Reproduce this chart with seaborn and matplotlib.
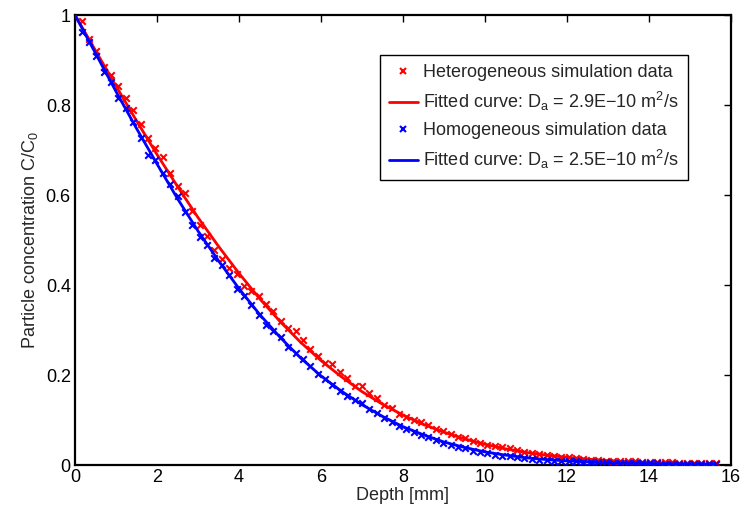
import matplotlib
matplotlib.use("Agg")
import matplotlib.pyplot as plt
import seaborn as sns
import pandas as pd
from matplotlib.lines import Line2D

# ---------------- data ----------------
depth = [0.16, 0.34, 0.52, 0.70, 0.88, 1.06, 1.24, 1.42, 1.60, 1.78,
         1.96, 2.14, 2.32, 2.50, 2.68, 2.86, 3.04, 3.22, 3.40, 3.58,
         3.76, 3.94, 4.12, 4.30, 4.48, 4.66, 4.84, 5.02, 5.20, 5.38,
         5.56, 5.74, 5.92, 6.10, 6.28, 6.46, 6.64, 6.82, 7.00, 7.18,
         7.36, 7.54, 7.72, 7.90, 8.08, 8.26, 8.44, 8.62, 8.80, 8.98,
         9.16, 9.34, 9.52, 9.70, 9.88, 10.06, 10.24, 10.42, 10.60, 10.78,
         10.96, 11.14, 11.32, 11.50, 11.68, 11.86, 12.04, 12.22, 12.40, 12.58,
         12.76, 12.94, 13.12, 13.30, 13.48, 13.66, 13.84, 14.02, 14.20, 14.38,
         14.56, 14.74, 14.92, 15.10, 15.28, 15.46, 15.64]

hetero_data = [0.987, 0.946, 0.921, 0.884, 0.866, 0.842, 0.815, 0.790, 0.758, 0.726,
               0.704, 0.684, 0.648, 0.621, 0.604, 0.565, 0.534, 0.510, 0.478, 0.458,
               0.438, 0.424, 0.398, 0.387, 0.376, 0.357, 0.343, 0.320, 0.305, 0.298,
               0.278, 0.258, 0.242, 0.227, 0.224, 0.207, 0.194, 0.176, 0.175, 0.161,
               0.150, 0.134, 0.126, 0.114, 0.106, 0.100, 0.096, 0.089, 0.081, 0.075,
               0.069, 0.063, 0.059, 0.054, 0.050, 0.045, 0.042, 0.040, 0.037, 0.033,
               0.030, 0.027, 0.025, 0.022, 0.021, 0.018, 0.017, 0.015, 0.014, 0.012,
               0.012, 0.010, 0.010, 0.009, 0.008, 0.008, 0.007, 0.007, 0.006, 0.006,
               0.006, 0.005, 0.005, 0.005, 0.005, 0.004, 0.004]

homo_data = [0.963, 0.941, 0.909, 0.874, 0.852, 0.815, 0.793, 0.763, 0.726, 0.689,
             0.677, 0.649, 0.625, 0.598, 0.563, 0.533, 0.507, 0.489, 0.459, 0.444,
             0.422, 0.392, 0.375, 0.356, 0.333, 0.311, 0.298, 0.284, 0.263, 0.250,
             0.235, 0.220, 0.202, 0.191, 0.178, 0.165, 0.154, 0.145, 0.137, 0.124,
             0.115, 0.104, 0.096, 0.087, 0.079, 0.074, 0.067, 0.063, 0.056, 0.050,
             0.044, 0.041, 0.037, 0.032, 0.028, 0.026, 0.022, 0.020, 0.019, 0.017,
             0.015, 0.013, 0.012, 0.011, 0.010, 0.009, 0.009, 0.008, 0.007, 0.007,
             0.006, 0.006, 0.005, 0.005, 0.005, 0.004, 0.004, 0.004, 0.004, 0.003,
             0.003, 0.003, 0.003, 0.003, 0.003, 0.003, 0.003]

fit_depth = [0.0, 0.5, 1.0, 1.5, 2.0, 2.5, 3.0, 3.5, 4.0, 4.5,
             5.0, 5.5, 6.0, 6.5, 7.0, 7.5, 8.0, 8.5, 9.0, 9.5,
             10.0, 10.5, 11.0, 11.5, 12.0, 12.5, 13.0, 13.5, 14.0, 14.5,
             15.0, 15.5, 15.65]

hetero_fit = [1.000, 0.921, 0.842, 0.765, 0.690, 0.619, 0.550, 0.486, 0.426, 0.370,
              0.319, 0.273, 0.232, 0.196, 0.163, 0.135, 0.111, 0.090, 0.073, 0.058,
              0.046, 0.036, 0.028, 0.022, 0.017, 0.013, 0.0097, 0.0072, 0.0053, 0.0039,
              0.0028, 0.0020, 0.0018]

homo_fit = [1.000, 0.915, 0.830, 0.748, 0.669, 0.592, 0.520, 0.454, 0.392, 0.335,
            0.284, 0.238, 0.198, 0.164, 0.134, 0.108, 0.085, 0.067, 0.051, 0.039,
            0.029, 0.022, 0.016, 0.012, 0.009, 0.007, 0.005, 0.004, 0.003, 0.002,
            0.0015, 0.001, 0.001]

x_ticks = [0, 2, 4, 6, 8, 10, 12, 14, 16]
y_ticks = [0, 0.2, 0.4, 0.6, 0.8, 1]
y_tick_labels = ["0", "0.2", "0.4", "0.6", "0.8", "1"]

labels = ["Heterogeneous simulation data",
          r"Fitted curve: D$_\mathregular{a}$ = 2.9E$\mathregular{-}$10 m$^\mathregular{2}$/s",
          "Homogeneous simulation data",
          r"Fitted curve: D$_\mathregular{a}$ = 2.5E$\mathregular{-}$10 m$^\mathregular{2}$/s"]

# ---------------- style ----------------
sns.set_theme(style="white")
plt.rcParams["font.family"] = ["Liberation Sans", "DejaVu Sans"]
plt.rcParams["mathtext.fontset"] = "custom"
plt.rcParams["mathtext.rm"] = "Liberation Sans"
plt.rcParams["mathtext.it"] = "Liberation Sans:italic"
plt.rcParams["mathtext.bf"] = "Liberation Sans:bold"

RED = "#FF0000"
BLUE = "#0000FF"
FS = 13

fig = plt.figure(figsize=(7.44, 5.08), dpi=100)
ax = fig.add_axes([75 / 744, 1 - 465 / 508, 656 / 744, 450 / 508])

df_het = pd.DataFrame({"depth": depth, "c": hetero_data})
df_hom = pd.DataFrame({"depth": depth, "c": homo_data})
fit_het = pd.DataFrame({"depth": fit_depth, "c": hetero_fit})
fit_hom = pd.DataFrame({"depth": fit_depth, "c": homo_fit})

sns.scatterplot(data=df_het, x="depth", y="c", ax=ax, marker="x", color=RED,
                s=22, linewidth=1.5, zorder=3, legend=False)
sns.lineplot(data=fit_het, x="depth", y="c", ax=ax, color=RED, linewidth=2,
             zorder=4, legend=False)
sns.scatterplot(data=df_hom, x="depth", y="c", ax=ax, marker="x", color=BLUE,
                s=22, linewidth=1.5, zorder=5, legend=False)
sns.lineplot(data=fit_hom, x="depth", y="c", ax=ax, color=BLUE, linewidth=2,
             zorder=6, legend=False)

ax.set_xlim(0, 16)
ax.set_ylim(0, 1)
ax.set_xticks(x_ticks)
ax.set_xticklabels([str(t) for t in x_ticks])
ax.set_yticks(y_ticks)
ax.set_yticklabels(y_tick_labels)
ax.tick_params(direction="in", length=5, width=1, top=True, right=True,
               labelsize=FS, colors="black")
ax.tick_params(axis="y", pad=3)
ax.tick_params(axis="x", pad=3)
for sp in ax.spines.values():
    sp.set_visible(True)
    sp.set_color("black")
    sp.set_linewidth(1.6)

ax.set_xlabel("Depth [mm]", fontsize=FS, labelpad=0.5)
ax.set_ylabel(r"Particle concentration C/C$_\mathregular{0}$", fontsize=FS, labelpad=4)

handles = [
    Line2D([], [], linestyle="none", marker="x", color=RED, markersize=4.5, markeredgewidth=1.5),
    Line2D([], [], color=RED, linewidth=2),
    Line2D([], [], linestyle="none", marker="x", color=BLUE, markersize=4.5, markeredgewidth=1.5),
    Line2D([], [], color=BLUE, linewidth=2),
]
leg = ax.legend(handles, labels, loc="upper right",
                bbox_to_anchor=(688 / 744, 1 - 55 / 508),
                bbox_transform=fig.transFigure, borderaxespad=0, fontsize=FS,
                frameon=True, fancybox=False, edgecolor="black", framealpha=1,
                handlelength=1.6, handletextpad=0.3, borderpad=0.5, labelspacing=0.5)
leg.get_frame().set_linewidth(1.0)

fig.savefig("out.png", dpi=100)
